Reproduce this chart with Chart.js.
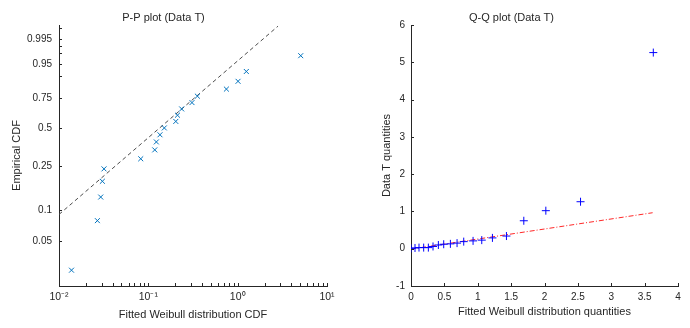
<!DOCTYPE html>
<html lang="en">
<head>
    <meta charset="UTF-8">
    <title>P-P and Q-Q plots (Data T)</title>
    <script src="https://cdn.jsdelivr.net/npm/chart.js"></script>
    <style>
        body { margin: 0; background: #fff; }
        #wrap { position: relative; width: 690px; height: 328px; }
        canvas { position: absolute; top: 0; }
    </style>
</head>
<body>
    <div id="wrap">
        <canvas id="ppChart" width="345" height="328" style="left:0"></canvas>
        <canvas id="qqChart" width="345" height="328" style="left:345px"></canvas>
    </div>

    <script>
        // P-P plot: fitted CDF (log axis) vs empirical CDF (Weibull probability axis)
        const ppFitted = [0.0138, 0.0269, 0.0293, 0.0306, 0.0319, 0.0822, 0.118, 0.123, 0.135, 0.151,
                          0.203, 0.212, 0.236, 0.308, 0.354, 0.748, 1.01, 1.25, 5.08];
        const ppEmpirical = [0.026, 0.079, 0.132, 0.184, 0.237, 0.289, 0.342, 0.395, 0.447, 0.5,
                             0.553, 0.605, 0.658, 0.711, 0.763, 0.816, 0.868, 0.921, 0.974];
        const ppRefX = [0.01, 2.83];
        const ppRefP = [0.0905, 0.99925];

        const ppXTicks = [0.01, 0.02, 0.03, 0.04, 0.05, 0.06, 0.07, 0.08, 0.09,
                          0.1, 0.2, 0.3, 0.4, 0.5, 0.6, 0.7, 0.8, 0.9,
                          1, 2, 3, 4, 5, 6, 7, 8, 9, 10];
        const ppXMajor = [0.01, 0.1, 1, 10];
        const ppXLabels = ['10\u207B\u00B2', '10\u207B\u00B9', '10\u2070', '10\u00B9'];
        const ppYTicks = [0.05, 0.1, 0.25, 0.5, 0.75, 0.9, 0.95, 0.98, 0.99, 0.995, 0.999];
        const ppYLabels = ['0.05', '0.1', '0.25', '0.5', '0.75', '', '0.95', '', '', '0.995', ''];

        // Q-Q plot: fitted Weibull quantiles vs sorted data
        const qqTheoretical = [0.00, 0.06, 0.12, 0.19, 0.26, 0.33, 0.41, 0.49, 0.59, 0.69,
                               0.79, 0.93, 1.06, 1.22, 1.43, 1.69, 2.02, 2.54, 3.63];
        const qqData = [0.01, 0.02, 0.03, 0.03, 0.03, 0.06, 0.10, 0.12, 0.13, 0.15,
                        0.19, 0.21, 0.23, 0.29, 0.34, 0.75, 1.02, 1.26, 5.26];
        const qqRefX = [0.0, 3.62];
        const qqRefY = [-0.01, 0.965];

        const axisColor = '#262626';
        Chart.defaults.font.family = "'Liberation Sans', Arial, sans-serif";
        Chart.defaults.color = axisColor;

        // Weibull probability paper transform
        const weib = p => Math.log(-Math.log(1 - p));

        // MATLAB style tick marks pointing into the axes
        const innerTicks = {
            id: 'innerTicks',
            afterDraw(chart) {
                const { ctx, chartArea } = chart;
                const xs = chart.scales.x, ys = chart.scales.y;
                ctx.save();
                ctx.strokeStyle = axisColor;
                ctx.lineWidth = 1;
                ctx.beginPath();
                xs.ticks.forEach(t => {
                    const px = Math.round(xs.getPixelForValue(t.value)) + 0.5;
                    ctx.moveTo(px, chartArea.bottom);
                    ctx.lineTo(px, chartArea.bottom - 3);
                });
                ys.ticks.forEach(t => {
                    const py = Math.round(ys.getPixelForValue(t.value)) + 0.5;
                    ctx.moveTo(chartArea.left, py);
                    ctx.lineTo(chartArea.left + 3, py);
                });
                ctx.stroke();
                ctx.restore();
            }
        };

        function titleOpts(text) {
            return {
                display: true,
                text: text,
                color: axisColor,
                font: { size: 11, weight: 'normal' },
                padding: { top: 11, bottom: 0.8 }
            };
        }

        function fixX(h) {
            return s => { s.height = h; s.paddingLeft = 0; s.paddingRight = 0; };
        }
        function fixY(w) {
            return s => { s.width = w; s.paddingTop = 0; s.paddingBottom = 0; };
        }

        // ---- P-P plot ----
        new Chart(document.getElementById('ppChart'), {
            type: 'scatter',
            data: {
                datasets: [{
                    data: ppFitted.map((x, i) => ({ x: x, y: weib(ppEmpirical[i]) })),
                    pointStyle: 'crossRot',
                    pointRadius: 3.5,
                    pointBorderWidth: 1,
                    borderColor: '#0072BD',
                    backgroundColor: '#0072BD'
                }, {
                    data: ppRefX.map((x, i) => ({ x: x, y: weib(ppRefP[i]) })),
                    showLine: true,
                    pointRadius: 0,
                    borderColor: '#4d4d4d',
                    borderWidth: 1,
                    borderDash: [4, 3]
                }]
            },
            options: {
                responsive: false,
                animation: false,
                layout: { padding: { top: 0, right: 18, bottom: 0, left: 0 } },
                plugins: {
                    legend: { display: false },
                    tooltip: { enabled: false },
                    title: titleOpts('P-P plot (Data T)')
                },
                scales: {
                    x: {
                        type: 'logarithmic',
                        min: 0.01,
                        max: 10,
                        afterFit: fixX(42),
                        afterBuildTicks: s => { s.ticks = ppXTicks.map(v => ({ value: v })); },
                        grid: { display: false, drawTicks: false },
                        border: { display: true, color: axisColor, width: 1 },
                        ticks: {
                            autoSkip: false,
                            maxRotation: 0,
                            padding: 5,
                            font: { size: 10.5 },
                            callback: v => {
                                const k = ppXMajor.findIndex(m => Math.abs(v - m) < m * 1e-6);
                                return k >= 0 ? ppXLabels[k] : '';
                            }
                        },
                        title: {
                            display: true,
                            text: 'Fitted Weibull distribution CDF',
                            font: { size: 11 },
                            padding: { top: 0, bottom: 6.4 }
                        }
                    },
                    y: {
                        type: 'linear',
                        min: -4,
                        max: 2,
                        afterFit: fixY(59),
                        afterBuildTicks: s => { s.ticks = ppYTicks.map(p => ({ value: weib(p) })); },
                        grid: { display: false, drawTicks: false },
                        border: { display: true, color: axisColor, width: 1 },
                        ticks: {
                            autoSkip: false,
                            padding: 7,
                            font: { size: 10 },
                            callback: (v, i) => ppYLabels[i]
                        },
                        title: {
                            display: true,
                            text: 'Empirical CDF',
                            font: { size: 11 },
                            padding: { top: 10, bottom: 0 }
                        }
                    }
                }
            },
            plugins: [innerTicks]
        });

        // ---- Q-Q plot ----
        new Chart(document.getElementById('qqChart'), {
            type: 'scatter',
            data: {
                datasets: [{
                    data: qqTheoretical.map((x, i) => ({ x: x, y: qqData[i] })),
                    pointStyle: 'cross',
                    pointRadius: 4,
                    pointBorderWidth: 1,
                    borderColor: '#0000FF',
                    backgroundColor: '#0000FF'
                }, {
                    data: qqRefX.map((x, i) => ({ x: x, y: qqRefY[i] })),
                    showLine: true,
                    pointRadius: 0,
                    borderColor: 'rgba(255, 0, 0, 0.85)',
                    borderWidth: 1,
                    borderDash: [5, 2, 1, 2]
                }]
            },
            options: {
                responsive: false,
                animation: false,
                layout: { padding: { top: 0, right: 12, bottom: 0, left: 0 } },
                plugins: {
                    legend: { display: false },
                    tooltip: { enabled: false },
                    title: titleOpts('Q-Q plot (Data T)')
                },
                scales: {
                    x: {
                        type: 'linear',
                        min: 0,
                        max: 4,
                        afterFit: fixX(42),
                        grid: { display: false, drawTicks: false },
                        border: { display: true, color: axisColor, width: 1 },
                        ticks: {
                            stepSize: 0.5,
                            autoSkip: false,
                            maxRotation: 0,
                            padding: 5,
                            font: { size: 10 },
                            callback: v => String(Number(v.toFixed(2)))
                        },
                        title: {
                            display: true,
                            text: 'Fitted Weibull distribution quantities',
                            font: { size: 11 },
                            padding: { top: 0, bottom: 9 }
                        }
                    },
                    y: {
                        type: 'linear',
                        min: -1,
                        max: 6,
                        afterFit: fixY(66),
                        grid: { display: false, drawTicks: false },
                        border: { display: true, color: axisColor, width: 1 },
                        ticks: {
                            stepSize: 1,
                            autoSkip: false,
                            padding: 6,
                            font: { size: 10 },
                            callback: v => String(Number(v.toFixed(2)))
                        },
                        title: {
                            display: true,
                            text: 'Data T quantities',
                            font: { size: 11 },
                            padding: { top: 35, bottom: 0 }
                        }
                    }
                }
            },
            plugins: [innerTicks]
        });
    </script>
</body>
</html>
